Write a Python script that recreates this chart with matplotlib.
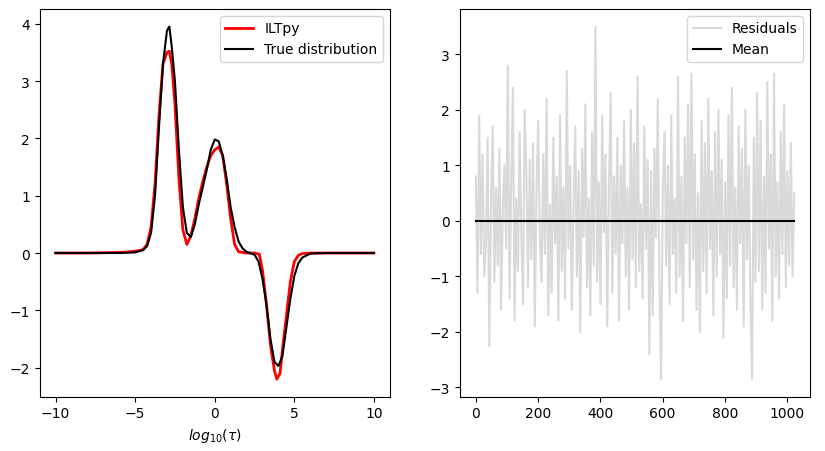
import matplotlib
matplotlib.use("Agg")
import matplotlib.pyplot as plt
import numpy as np

true_x = [-10,-8,-6,-5,-4.5,-4.25,-4,-3.75,-3.5,-3.25,-3.0,-2.85,-2.7,-2.5,-2.25,-2.0,-1.75,-1.5,-1.25,-1.0,-0.75,-0.5,-0.25,0,0.25,0.5,0.75,1.0,1.25,1.5,1.75,2.0,2.5,2.75,3.0,3.25,3.5,3.75,4.0,4.25,4.5,4.75,5.0,5.25,5.5,6,7,8,10]
true_y = [0,0,0,0.01,0.05,0.12,0.35,1.0,2.2,3.3,3.88,3.95,3.6,3.0,1.8,0.8,0.35,0.28,0.5,0.85,1.15,1.45,1.8,1.98,1.95,1.7,1.3,0.8,0.45,0.2,0.08,0.02,-0.03,-0.15,-0.45,-0.9,-1.5,-1.9,-1.97,-1.8,-1.3,-0.8,-0.4,-0.18,-0.08,-0.01,0,0,0]
ilt_x = [-10,-8,-6,-5,-4.5,-4.25,-4,-3.75,-3.5,-3.25,-3.0,-2.85,-2.7,-2.5,-2.25,-2.0,-1.75,-1.5,-1.25,-1.0,-0.75,-0.5,-0.25,0,0.25,0.5,0.75,1.0,1.25,1.5,2.0,2.5,2.8,3.0,3.25,3.5,3.75,3.9,4.1,4.25,4.5,4.75,5.0,5.25,5.5,6,7,8,10]
ilt_y = [0,0,0.01,0.03,0.06,0.15,0.45,1.2,2.4,3.3,3.5,3.52,3.3,2.6,1.3,0.4,0.15,0.3,0.6,0.95,1.25,1.5,1.7,1.8,1.85,1.7,1.2,0.6,0.15,0.02,0.0,0.0,-0.02,-0.3,-0.9,-1.6,-2.05,-2.2,-2.1,-1.7,-1.1,-0.5,-0.15,-0.04,-0.01,0,0,0,0]

res = [0.8,-1.3,1.9,-0.6,1.2,-1.0,-0.4,1.5,-2.25,0.3,1.7,-1.1,0.6,-0.8,1.3,-1.6,0.2,1.0,-0.5,2.8,
       -1.4,0.7,2.4,-1.8,0.4,-0.9,1.6,-0.2,-1.5,2.0,0.9,-1.2,1.1,-0.7,1.4,-1.9,0.5,1.8,-0.3,-1.1,
       1.2,-0.6,2.2,-1.7,0.3,-1.3,1.5,-0.4,0.8,-1.8,1.9,-0.9,0.6,-1.4,2.7,-0.5,1.0,-1.6,0.2,1.7,
       -1.0,0.9,-2.0,1.3,-0.3,2.1,-1.2,0.4,-1.7,1.6,-0.8,3.5,-1.1,0.7,-1.5,1.9,-0.2,1.2,-1.9,0.5,
       2.3,-1.3,0.8,-0.6,1.5,-1.8,1.0,-0.4,1.8,-1.0,0.6,-1.6,2.0,-0.7,1.4,-1.2,2.6,-0.9,0.3,-1.4,
       1.7,-0.5,1.1,-2.4,0.9,-1.7,1.3,-0.3,2.2,-1.1,-2.85,0.6,1.6,-0.8,1.0,-1.5,1.9,-0.6,0.4,-1.3,
       2.6,-1.0,0.8,-1.8,1.5,-0.4,2.1,-1.2,2.65,-0.7,1.2,-1.6,0.5,-2.0,1.8,-0.9,1.4,-1.3,2.2,-0.5,
       0.9,-1.7,1.6,-1.0,2.0,-0.6,1.1,-2.1,0.7,-1.4,1.9,-0.8,2.4,-1.2,0.6,-1.6,1.7,-0.4,1.3,-1.9,
       2.0,-0.7,1.0,-1.5,-2.85,1.5,-1.1,2.3,-0.9,1.8,-1.6,0.8,-1.3,2.5,-0.5,1.2,-1.8,2.65,-1.0,0.7,
       -1.4,1.6,-0.6,2.1,-1.2,0.9,-0.8,1.4,-1.0,0.5]
res_x = np.linspace(0, 1023, len(res))

fig, (a1, a2) = plt.subplots(1, 2, figsize=(8.25, 4.52), dpi=100)
fig.subplots_adjust(left=0.048, right=0.982, top=0.978, bottom=0.12, wspace=0.2)
a1.plot(ilt_x, ilt_y, color='red', lw=2, label='ILTpy')
a1.plot(true_x, true_y, color='black', lw=1.5, label='True distribution')
a1.set_xlabel(r'$log_{10}(\tau)$')
a1.set_xticks([-10, -5, 0, 5, 10])
a1.legend(loc='upper right')

a2.plot(res_x, res, color='#d9d9d9', lw=1.5, label='Residuals')
a2.plot([0, 1023], [0, 0], color='black', lw=1.5, label='Mean')
a2.set_xticks([0, 200, 400, 600, 800, 1000])
a2.legend(loc='upper right')
fig.savefig('out.png')
